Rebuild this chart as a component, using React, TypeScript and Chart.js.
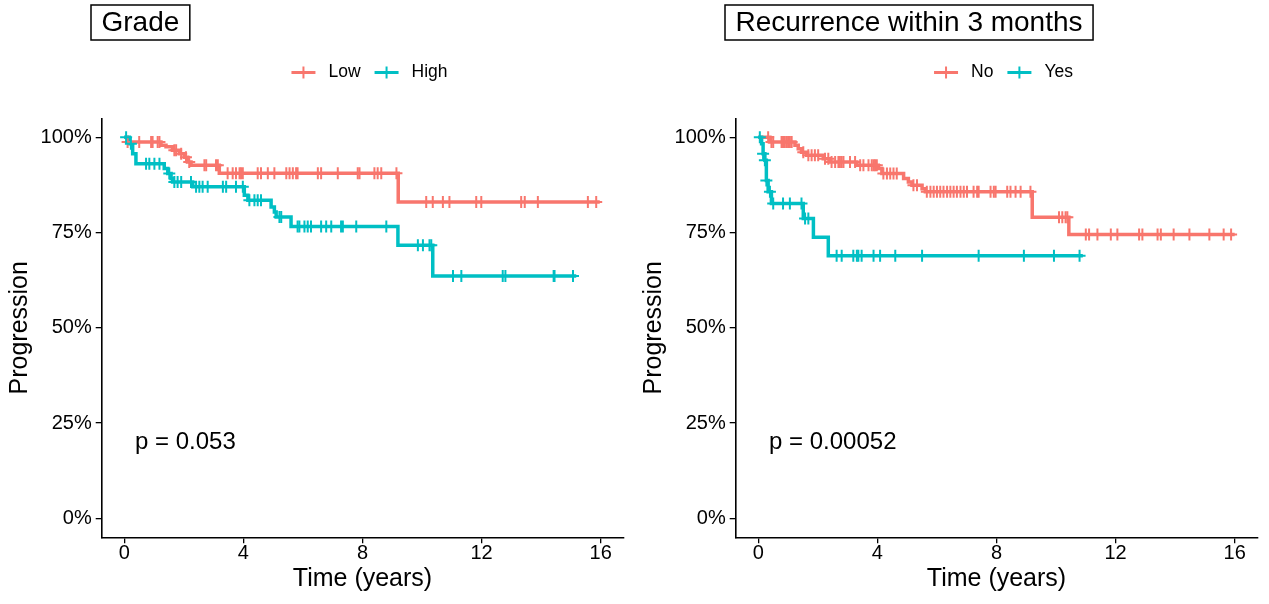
import { useEffect, useRef } from "react";
import { Chart, registerables, type Plugin } from "chart.js";

Chart.register(...registerables);

const FONT = '"Liberation Sans", Arial, Helvetica, sans-serif';
const RED = "#F8766D";
const TEAL = "#00BFC4";

const xTicks = [0, 4, 8, 12, 16];
const yTicks = [0, 0.25, 0.5, 0.75, 1];

// --- Grade panel ---
const lowTime = [0, 0.1, 1.23, 1.4, 1.62, 1.85, 2.02, 2.13, 2.24, 3.19, 9.2, 15.97];
const lowSurv = [1, 0.988, 0.979, 0.975, 0.966, 0.957, 0.948, 0.935, 0.927, 0.906, 0.83, 0.83];
const lowCensor = [
  0.11, 0.5, 0.9, 0.95, 1.12, 1.18, 1.68, 1.74, 1.91, 2.07, 2.18, 2.69, 2.75, 3.08, 3.14, 3.47,
  3.64, 3.75, 3.87, 3.92, 3.98, 4.48, 4.59, 4.82, 5.04, 5.44, 5.55, 5.66, 5.77, 5.82, 6.5, 6.61,
  7.17, 7.84, 7.9, 8.4, 8.51, 8.63, 9.14, 10.14, 10.36, 10.7, 10.92, 11.82, 11.99, 13.33, 13.45,
  13.89, 15.57, 15.85,
];

const highTime = [0, 0.17, 0.28, 0.39, 1.34, 1.46, 1.57, 1.62, 2.3, 4.03, 4.15, 4.93, 5.04, 5.1, 5.6, 9.19, 10.36, 15.18];
const highSurv = [1, 0.983, 0.957, 0.931, 0.918, 0.905, 0.892, 0.883, 0.87, 0.848, 0.835, 0.817, 0.804, 0.791, 0.766, 0.717, 0.636, 0.636];
const highCensor = [
  0.06, 0.22, 0.73, 0.84, 1.01, 1.18, 1.51, 1.68, 1.79, 1.91, 2.24, 2.41, 2.52, 2.63, 2.8, 3.31,
  3.42, 3.75, 3.98, 4.2, 4.37, 4.48, 4.59, 5.21, 5.27, 5.82, 5.88, 6.05, 6.16, 6.27, 6.61, 6.78,
  6.95, 7.28, 7.34, 7.79, 8.8, 9.86, 10.03, 10.25, 10.31, 11.04, 11.32, 12.71, 12.8, 14.42, 14.45,
  15.07,
];

// --- Recurrence panel ---
const noTime = [0, 0.39, 1.23, 1.34, 1.45, 1.62, 2.18, 2.41, 3.31, 4.03, 4.15, 4.88, 5.04, 5.16, 5.5, 5.61, 9.2, 10.43, 16.0];
const noSurv = [1, 0.988, 0.979, 0.97, 0.961, 0.953, 0.944, 0.935, 0.927, 0.918, 0.905, 0.892, 0.883, 0.874, 0.865, 0.857, 0.79, 0.745, 0.745];
const noCensor = [
  0.33, 0.44, 0.5, 0.78, 0.83, 0.89, 0.95, 1.0, 1.06, 1.12, 1.51, 1.68, 1.79, 1.9, 2.01, 2.24,
  2.35, 2.46, 2.58, 2.69, 2.74, 2.8, 2.86, 3.08, 3.25, 3.42, 3.53, 3.7, 3.81, 3.87, 3.92, 3.98,
  4.2, 4.32, 4.43, 4.54, 4.65, 5.21, 5.33, 5.66, 5.78, 5.89, 6.0, 6.11, 6.22, 6.34, 6.45, 6.56,
  6.67, 6.79, 6.9, 7.01, 7.23, 7.35, 7.4, 7.8, 7.91, 7.97, 8.36, 8.47, 8.64, 8.81, 9.14, 10.1,
  10.21, 10.32, 10.38, 11.0, 11.11, 11.39, 11.84, 12.06, 12.79, 12.9, 13.41, 13.52, 13.95, 14.48,
  15.15, 15.63, 15.88,
];

const yesTime = [0, 0.11, 0.16, 0.22, 0.27, 0.33, 0.44, 1.51, 1.85, 2.35, 10.9];
const yesSurv = [1, 0.983, 0.957, 0.94, 0.887, 0.857, 0.826, 0.787, 0.738, 0.689, 0.689];
const yesCensor = [
  0.05, 0.16, 0.22, 0.27, 0.39, 0.5, 0.83, 1.06, 1.45, 1.57, 1.68, 2.63, 2.8, 3.19, 3.31, 3.36,
  3.47, 3.87, 4.09, 4.6, 5.5, 7.4, 8.92, 9.93, 10.79,
];

const pvalX = 0.36;
const pvalY = 0.2;

type Group = { label: string; color: string; time: number[]; surv: number[]; censor: number[] };
type Panel = { title: string; pval: string; groups: Group[] };

const panels: Panel[] = [
  {
    title: "Grade",
    pval: "p = 0.053",
    groups: [
      { label: "Low", color: RED, time: lowTime, surv: lowSurv, censor: lowCensor },
      { label: "High", color: TEAL, time: highTime, surv: highSurv, censor: highCensor },
    ],
  },
  {
    title: "Recurrence within 3 months",
    pval: "p = 0.00052",
    groups: [
      { label: "No", color: RED, time: noTime, surv: noSurv, censor: noCensor },
      { label: "Yes", color: TEAL, time: yesTime, surv: yesSurv, censor: yesCensor },
    ],
  },
];

// step value of the curve at time t (where a censor mark sits)
function survAt(time: number[], surv: number[], t: number) {
  let s = surv[0];
  for (let i = 0; i < time.length; i++) if (time[i] <= t) s = surv[i];
  return s;
}

const kmDecor: Plugin<"line"> = {
  id: "kmDecor",
  afterDraw(chart, _args, opts: any) {
    const { ctx } = chart;
    ctx.save();
    // boxed title
    ctx.font = `28px ${FONT}`;
    const tw = ctx.measureText(opts.title).width;
    ctx.strokeStyle = "#000";
    ctx.lineWidth = 1.5;
    ctx.strokeRect(91, 5, tw + 21, 35);
    ctx.fillStyle = "#000";
    ctx.textAlign = "left";
    ctx.textBaseline = "alphabetic";
    ctx.fillText(opts.title, 101.5, 31);

    // legend
    ctx.font = `17.5px ${FONT}`;
    const items = opts.groups.map((g: Group) => ({ ...g, w: ctx.measureText(g.label).width }));
    const total =
      items.reduce((a: number, it: any) => a + 24 + 13 + it.w, 0) + 14 * (items.length - 1);
    let x = 369.5 - total / 2;
    const ly = 72.5;
    for (const it of items) {
      ctx.strokeStyle = it.color;
      ctx.lineWidth = 3;
      ctx.beginPath();
      ctx.moveTo(x, ly);
      ctx.lineTo(x + 24, ly);
      ctx.stroke();
      ctx.lineWidth = 2;
      ctx.beginPath();
      ctx.moveTo(x + 12, ly - 6);
      ctx.lineTo(x + 12, ly + 6);
      ctx.stroke();
      x += 37;
      ctx.fillStyle = "#000";
      ctx.textBaseline = "middle";
      ctx.fillText(it.label, x, ly);
      x += it.w + 14;
    }

    // p-value
    ctx.font = `24px ${FONT}`;
    ctx.textBaseline = "middle";
    ctx.fillText(opts.pval, chart.scales.x.getPixelForValue(pvalX), chart.scales.y.getPixelForValue(pvalY));
    ctx.restore();
  },
};

function KmPanel({ panel, width }: { panel: Panel; width: number }) {
  const canvasRef = useRef<HTMLCanvasElement>(null);

  useEffect(() => {
    const canvas = canvasRef.current;
    if (!canvas) return;

    const lines = panel.groups.map((g, i) => ({
      label: g.label,
      data: g.time.map((t, k) => ({ x: t, y: g.surv[k] })),
      borderColor: g.color,
      borderWidth: 3.5,
      stepped: true as const,
      pointRadius: 0,
      fill: false,
      order: 10 - i,
    }));
    const marks = panel.groups.map((g, i) => ({
      label: g.label + " censor",
      data: g.censor.map((t) => ({ x: t, y: survAt(g.time, g.surv, t) })),
      showLine: false,
      pointStyle: "cross" as const,
      pointRadius: 6,
      pointBorderWidth: 2,
      pointBorderColor: g.color,
      borderColor: g.color,
      order: 5 - i,
    }));

    const chart = new Chart(canvas, {
      type: "line",
      data: { datasets: [...lines, ...marks] as any },
      plugins: [kmDecor],
      options: {
        animation: false,
        responsive: true,
        maintainAspectRatio: false,
        events: [],
        layout: { padding: { top: 118.3, right: width - 623.3, bottom: 0, left: 0 } },
        plugins: {
          legend: { display: false },
          tooltip: { enabled: false },
          kmDecor: { title: panel.title, pval: panel.pval, groups: panel.groups },
        } as any,
        scales: {
          x: {
            type: "linear",
            min: -0.76,
            max: 16.76,
            afterBuildTicks: (s) => {
              s.ticks = xTicks.map((v) => ({ value: v }));
            },
            afterFit: (s) => {
              s.height = 66.7;
            },
            grid: { drawOnChartArea: false, drawTicks: true, tickLength: 6, color: "#000", lineWidth: 1.3 },
            border: { display: true, color: "#000", width: 1.6 },
            ticks: {
              color: "#000",
              font: { family: FONT, size: 20, lineHeight: 1 },
              padding: 0,
              maxRotation: 0,
              callback: (v) => String(v),
            },
            title: {
              display: true,
              text: "Time (years)",
              color: "#000",
              font: { family: FONT, size: 25 },
              padding: { top: 0, bottom: 10 },
            },
          },
          y: {
            type: "linear",
            min: -0.05,
            max: 1.05,
            afterBuildTicks: (s) => {
              s.ticks = yTicks.map((v) => ({ value: v }));
            },
            afterFit: (s) => {
              s.width = 101.7;
            },
            grid: { drawOnChartArea: false, drawTicks: true, tickLength: 6, color: "#000", lineWidth: 1.3 },
            border: { display: true, color: "#000", width: 1.6 },
            ticks: {
              color: "#000",
              font: { family: FONT, size: 20 },
              padding: 4,
              callback: (v) => Math.round(Number(v) * 100) + "%",
            },
            title: {
              display: true,
              text: "Progression",
              color: "#000",
              font: { family: FONT, size: 25 },
              padding: { top: 5, bottom: 0 },
            },
          },
        },
      },
    });

    return () => chart.destroy();
  }, [panel, width]);

  return (
    <div style={{ position: "relative", width, height: 604 }}>
      <canvas ref={canvasRef} />
    </div>
  );
}

export default function App() {
  return (
    <div
      style={{
        position: "absolute",
        left: 0,
        top: 0,
        width: 1269,
        height: 604,
        background: "#fff",
        display: "flex",
      }}
    >
      <KmPanel panel={panels[0]} width={634} />
      <KmPanel panel={panels[1]} width={635} />
    </div>
  );
}
